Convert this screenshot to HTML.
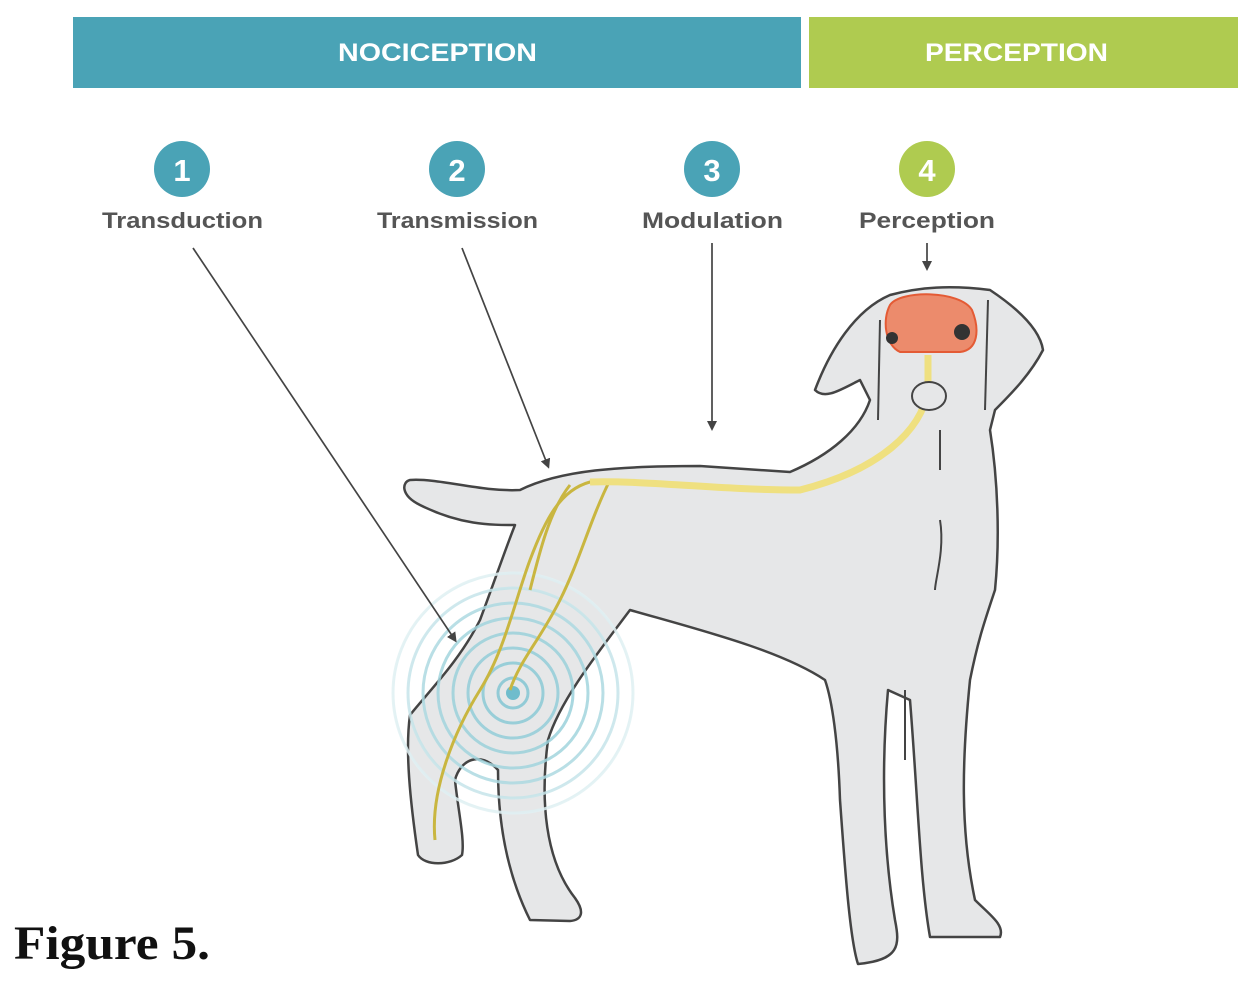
<!DOCTYPE html>
<html><head><meta charset="utf-8"><style>
body{margin:0;width:1250px;height:986px;background:#fff;overflow:hidden;position:relative;font-family:"Liberation Sans",sans-serif}
</style></head><body>
<svg width="1250" height="986" viewBox="0 0 1250 986" style="position:absolute;left:0;top:0">
<defs>
<radialGradient id="rg" cx="513" cy="693" r="125" gradientUnits="userSpaceOnUse">
<stop offset="0" stop-color="#7cc3d1"/><stop offset="0.7" stop-color="#a9d8e0"/><stop offset="1" stop-color="#e8f4f6"/></radialGradient>
<marker id="ah" markerWidth="10" markerHeight="10" refX="7" refY="5" orient="auto" markerUnits="userSpaceOnUse"><path d="M0,0 L10,5 L0,10 z" fill="#444"/></marker>
</defs>
<rect x="73" y="17" width="728" height="71" fill="#4aa3b6"/>
<rect x="809" y="17" width="429" height="71" fill="#afcb50"/>
<text x="338" y="61" textLength="199" lengthAdjust="spacingAndGlyphs" fill="#fff" font-size="25" font-weight="bold">NOCICEPTION</text>
<text x="925" y="61" textLength="183" lengthAdjust="spacingAndGlyphs" fill="#fff" font-size="25" font-weight="bold">PERCEPTION</text>
<g font-weight="bold" font-size="31" fill="#fff" text-anchor="middle">
<circle cx="182" cy="169" r="28" fill="#4aa3b6"/><text x="182" y="181">1</text>
<circle cx="457" cy="169" r="28" fill="#4aa3b6"/><text x="457" y="181">2</text>
<circle cx="712" cy="169" r="28" fill="#4aa3b6"/><text x="712" y="181">3</text>
<circle cx="927" cy="169" r="28" fill="#afcb50"/><text x="927" y="181">4</text>
</g>
<g font-weight="bold" font-size="22" fill="#555" lengthAdjust="spacingAndGlyphs">
<text x="102" y="228" textLength="161" lengthAdjust="spacingAndGlyphs">Transduction</text>
<text x="377" y="228" textLength="161" lengthAdjust="spacingAndGlyphs">Transmission</text>
<text x="642" y="228" textLength="141" lengthAdjust="spacingAndGlyphs">Modulation</text>
<text x="859" y="228" textLength="136" lengthAdjust="spacingAndGlyphs">Perception</text>
</g>
<path d="M410,480 C440,478 480,492 520,490 C560,470 620,466 700,466 L790,472 C830,455 860,430 870,400 L860,380 C840,390 825,400 815,390 C830,350 855,310 890,295 C920,287 950,285 990,290 C1020,310 1040,330 1043,350 C1030,375 1010,395 995,410 L990,430 C998,480 1000,540 995,590 C985,620 978,640 970,680 C962,760 960,830 975,900 C990,915 1005,925 1000,937 L930,937 C920,880 918,800 910,700 L888,690 C880,780 885,860 895,920 C900,945 900,960 858,964 C850,940 845,870 840,800 C838,740 832,700 825,680 C780,650 700,630 630,610 C600,650 560,700 548,740 C540,800 545,860 575,898 C585,912 582,920 570,921 L530,920 C510,880 498,830 498,770 C480,750 460,760 455,780 C458,810 465,840 462,855 C450,866 425,866 418,855 C410,800 405,750 410,715 C430,690 460,660 480,620 C495,580 505,550 515,525 C490,525 460,525 420,505 C400,495 402,482 410,480 Z" fill="#e6e7e8" stroke="#444" stroke-width="2.5" stroke-linejoin="round"/>
<g fill="none" stroke="url(#rg)" stroke-width="3" opacity="0.85">
<circle cx="513" cy="693" r="15"/><circle cx="513" cy="693" r="30"/><circle cx="513" cy="693" r="45"/><circle cx="513" cy="693" r="60"/><circle cx="513" cy="693" r="75"/><circle cx="513" cy="693" r="90"/><circle cx="513" cy="693" r="105"/><circle cx="513" cy="693" r="120"/>
</g>
<circle cx="513" cy="693" r="7" fill="#6fbccc"/>
<g fill="none" stroke="#c9b640" stroke-width="3">
<path d="M928,355 L928,390 C922,430 880,470 800,490 C720,490 640,480 590,482 C560,490 545,520 530,560 C515,600 505,650 480,690 C455,730 430,790 435,840"/>
<path d="M610,480 C590,520 580,560 560,600 C540,640 520,660 510,690"/>
<path d="M570,485 C550,510 540,550 530,590"/>
</g>
<path d="M928,355 L928,390 C922,430 880,470 800,490 C720,490 640,480 590,482" fill="none" stroke="#efe080" stroke-width="7"/>
<path d="M890,305 C900,290 960,290 972,310 C980,330 978,350 960,352 L900,352 C885,345 882,320 890,305Z" fill="#ec8b6c" stroke="#e45b35" stroke-width="2"/>
<circle cx="892" cy="338" r="6" fill="#333"/><circle cx="962" cy="332" r="8" fill="#333"/>
<ellipse cx="929" cy="396" rx="17" ry="14" fill="#e6e7e8" stroke="#444" stroke-width="2"/>
<g stroke="#444" stroke-width="2" fill="none">
<path d="M880,320 L878,420"/><path d="M988,300 L985,410"/><path d="M940,430 L940,470"/>
<path d="M940,520 C945,550 935,580 935,590"/><path d="M905,690 L905,760"/>
</g>
<g stroke="#444" stroke-width="1.7" marker-end="url(#ah)">
<line x1="193" y1="248" x2="455" y2="640"/>
<line x1="462" y1="248" x2="548" y2="466"/>
<line x1="712" y1="243" x2="712" y2="428"/>
<line x1="927" y1="243" x2="927" y2="268"/>
</g>
<text x="14" y="959" textLength="196" lengthAdjust="spacingAndGlyphs" font-family="Liberation Serif,serif" font-weight="bold" font-size="48" fill="#111">Figure 5.</text>
</svg>
</body></html>
